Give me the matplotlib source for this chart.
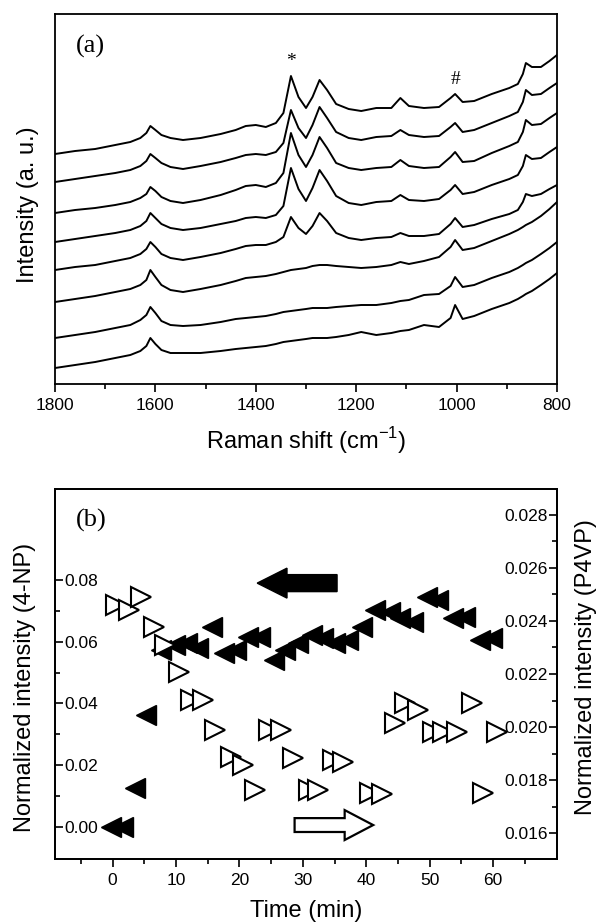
import numpy as np
import matplotlib
matplotlib.use("Agg")
import matplotlib.pyplot as plt
from matplotlib.patches import FancyArrow
from matplotlib.ticker import MultipleLocator, FormatStrFormatter

plt.rcParams['font.family'] = ['Liberation Sans', 'DejaVu Sans']
plt.rcParams['mathtext.fontset'] = 'custom'
plt.rcParams['mathtext.rm'] = 'Liberation Sans'

# ---- panel (a): Raman spectra ----
shift = [1800, 1760, 1720, 1680, 1650, 1630, 1618, 1610, 1600, 1588, 1570, 1545,
         1510, 1470, 1440, 1420, 1400, 1380, 1360, 1345, 1330, 1315, 1300, 1287,
         1273, 1258, 1240, 1215, 1190, 1160, 1130, 1112, 1095, 1065, 1035, 1012,
         1003, 988, 965, 930, 895, 878, 868, 862, 850, 832, 815, 800]

# each spectrum relative to its value at 1800 cm-1 (top trace first)
spec1 = [0, 3, 5, 9, 12, 16, 21, 28, 24, 19, 16, 14, 16, 20, 24, 28, 29, 27, 31, 41,
         78, 57, 46, 57, 74, 64, 50, 45, 43, 46, 46, 56, 48, 46, 47, 56, 60, 52, 53, 60,
         66, 70, 80, 91, 87, 87, 93, 99]
spec2 = [0, 3, 6, 9, 12, 16, 21, 28, 24, 19, 15, 13, 16, 20, 24, 27, 28, 27, 30, 39,
         72, 54, 44, 57, 75, 64, 50, 44, 42, 45, 46, 52, 47, 45, 46, 55, 59, 50, 52, 59,
         66, 70, 80, 92, 87, 88, 94, 99]
spec3 = [0, 3, 5, 8, 11, 15, 19, 26, 22, 16, 12, 10, 13, 18, 23, 27, 28, 26, 30, 40,
         80, 58, 46, 58, 76, 65, 50, 45, 43, 45, 46, 53, 47, 45, 46, 56, 61, 51, 52, 60,
         67, 71, 81, 93, 88, 89, 95, 100]
spec4 = [0, 3, 6, 9, 12, 16, 21, 29, 24, 18, 14, 12, 14, 18, 21, 24, 25, 24, 27, 36,
         74, 53, 41, 54, 72, 61, 46, 39, 37, 40, 41, 47, 42, 41, 43, 52, 57, 48, 50, 57,
         63, 67, 76, 87, 83, 84, 90, 95]
spec5 = [0, 3, 5, 9, 12, 16, 21, 28, 23, 16, 12, 10, 13, 17, 21, 24, 25, 25, 28, 33,
         53, 42, 36, 44, 57, 49, 37, 32, 30, 32, 33, 37, 34, 34, 36, 46, 52, 43, 45, 51,
         56, 60, 68, 76, 74, 76, 81, 85]
spec6 = [0, 3, 6, 10, 13, 17, 22, 32, 25, 17, 12, 10, 13, 17, 21, 24, 25, 26, 28, 30,
         32, 33, 34, 36, 37, 37, 36, 35, 34, 35, 37, 40, 38, 41, 45, 55, 62, 52, 54, 61,
         68, 72, 75, 77, 80, 86, 93, 100]
spec7 = [0, 3, 6, 10, 13, 18, 23, 31, 25, 17, 13, 12, 13, 16, 19, 20, 21, 22, 24, 26,
         27, 28, 29, 30, 30, 30, 31, 32, 33, 33, 35, 37, 38, 43, 44, 52, 61, 51, 53, 60,
         66, 70, 73, 75, 78, 84, 90, 96]
spec8 = [0, 3, 6, 10, 13, 17, 22, 30, 24, 18, 15, 15, 15, 17, 19, 20, 21, 22, 24, 26,
         27, 28, 29, 30, 30, 30, 31, 33, 36, 33, 35, 37, 38, 43, 41, 50, 63, 49, 52, 59,
         65, 69, 72, 74, 77, 83, 89, 95]
spectra = [spec1, spec2, spec3, spec4, spec5, spec6, spec7, spec8]
levels = [230, 202, 171, 142, 114, 82, 46, 16]   # stacking level of each trace

# ---- panel (b): normalized intensities vs time ----
t_np = [-0.3, 1.6, 3.6, 5.2, 7.6, 9.9, 11.8, 13.5, 15.7, 17.5, 19.4, 21.3, 23.3,
        25.4, 27.2, 29.3, 31.5, 33.2, 35.1, 37.2, 39.4, 41.4, 43.8, 45.4, 47.4,
        49.6, 51.3, 53.7, 55.6, 57.9, 59.8]
i_np = [0.000, 0.000, 0.0126, 0.0363, 0.0573, 0.0589, 0.0596, 0.0580, 0.0648,
        0.0563, 0.0573, 0.0615, 0.0615, 0.0541, 0.0573, 0.0596, 0.0622, 0.0612,
        0.0596, 0.0606, 0.0648, 0.0703, 0.0696, 0.0677, 0.0664, 0.0745, 0.0735,
        0.0677, 0.0680, 0.0606, 0.0612]

t_p4vp = [0.5, 2.5, 4.5, 6.5, 8.3, 10.4, 12.3, 14.3, 16.2, 18.6, 20.5, 22.5, 24.6,
          26.5, 28.5, 30.9, 32.4, 34.8, 36.4, 40.6, 42.5, 44.6, 46.1, 48.2, 50.6,
          52.1, 54.3, 56.7, 58.4, 60.6]
i_p4vp = [0.02460, 0.02442, 0.02491, 0.02377, 0.02309, 0.02208, 0.02102, 0.02102,
          0.01989, 0.01887, 0.01857, 0.01762, 0.01989, 0.01989, 0.01883, 0.01762,
          0.01762, 0.01875, 0.01868, 0.01751, 0.01747, 0.02015, 0.02091, 0.02064,
          0.01981, 0.01981, 0.01981, 0.02091, 0.01751, 0.01981]

W, H = 597, 924
fig = plt.figure(figsize=(W / 100, H / 100), dpi=100)

def px_axes(l, t, r, b):
    return [l / W, 1 - b / H, (r - l) / W, (b - t) / H]

lw_sp = 1.3
lab_fs = 17
tick_fs = 12.5

# panel (a)
ax1 = fig.add_axes(px_axes(55, 14, 557, 384))
for lvl, s in zip(levels, spectra):
    ax1.plot(shift, lvl + np.array(s), color='black', lw=1.4)
ax1.set_xlim(1800, 800)
ax1.set_ylim(0, 370)
ax1.set_yticks([])
ax1.xaxis.set_major_locator(MultipleLocator(200))
ax1.xaxis.set_minor_locator(MultipleLocator(100))
ax1.tick_params(axis='x', which='major', direction='out', length=6, width=1.2,
                labelsize=tick_fs, pad=4)
ax1.tick_params(axis='x', which='minor', direction='out', length=3.5, width=1.2)
ax1.set_xlabel('Raman shift (cm$^{-1}$)', fontsize=lab_fs, labelpad=9)
ax1.set_ylabel('Intensity (a. u.)', fontsize=lab_fs)
ax1.yaxis.set_label_coords(-0.032, 0.484)
ax1.text(0.042, 0.913, '(a)', transform=ax1.transAxes, fontsize=19,
         family='Liberation Serif', va='center', ha='left')
ax1.text(1330, 322, '*', fontsize=14, family='Liberation Serif', ha='center', va='center')
ax1.text(1003, 304, '#', fontsize=14, family='Liberation Serif', ha='center', va='center')
for sp in ax1.spines.values():
    sp.set_linewidth(lw_sp)

# panel (b)
ax = fig.add_axes(px_axes(55, 489, 557, 859))
ax2 = ax.twinx()
ax.plot(t_np, i_np, ls='none', marker='<', ms=15, color='black')
ax2.plot(t_p4vp, i_p4vp, ls='none', marker='>', ms=14, mfc='white', mec='black', mew=1.5)

ax.set_xlim(-9.1, 70.1)
ax.set_ylim(-0.0104, 0.1095)
ax2.set_ylim(0.01502, 0.02898)

ax.set_xticks([0, 10, 20, 30, 40, 50, 60])
ax.set_xticks([-5, 5, 15, 25, 35, 45, 55, 65], minor=True)
ax.set_yticks([0.00, 0.02, 0.04, 0.06, 0.08])
ax.set_yticks([0.01, 0.03, 0.05, 0.07], minor=True)
ax2.set_yticks([0.016, 0.018, 0.020, 0.022, 0.024, 0.026, 0.028])
ax2.set_yticks([0.017, 0.019, 0.021, 0.023, 0.025, 0.027], minor=True)
ax.yaxis.set_major_formatter(FormatStrFormatter('%.2f'))
ax2.yaxis.set_major_formatter(FormatStrFormatter('%.3f'))

ax.tick_params(axis='x', which='major', direction='out', length=6, width=1.2,
               labelsize=tick_fs, pad=4)
ax.tick_params(axis='x', which='minor', direction='out', length=3.5, width=1.2)
ax.tick_params(axis='y', which='major', direction='in', length=6, width=1.2,
               labelsize=tick_fs, pad=-7)
ax.tick_params(axis='y', which='minor', direction='in', length=3.5, width=1.2)
ax2.tick_params(axis='y', which='major', direction='in', length=6, width=1.2,
                labelsize=tick_fs, pad=-6.5)
ax2.tick_params(axis='y', which='minor', direction='in', length=3.5, width=1.2)
plt.setp(ax.get_yticklabels(), ha='left')
plt.setp(ax2.get_yticklabels(), ha='right')

ax.set_xlabel('Time (min)', fontsize=lab_fs, labelpad=9)
ax.set_ylabel('Normalized intensity (4-NP)', fontsize=lab_fs)
ax.yaxis.set_label_coords(-0.038, 0.465)
ax2.set_ylabel('Normalized intensity (P4VP)', fontsize=lab_fs)
ax2.yaxis.set_label_coords(1.036, 0.519)
ax.text(0.042, 0.916, '(b)', transform=ax.transAxes, fontsize=19,
        family='Liberation Serif', va='center', ha='left')

# direction arrows
ax.add_patch(FancyArrow(35.4, 0.079, -12.6, 0, width=0.0055, head_width=0.0097,
                        head_length=4.7, length_includes_head=True,
                        fc='black', ec='black', lw=1))
ax.add_patch(FancyArrow(28.7, 0.0006, 12.4, 0, width=0.0045, head_width=0.0097,
                        head_length=4.5, length_includes_head=True,
                        fc='white', ec='black', lw=1.6, zorder=3))
for a in (ax, ax2):
    for sp in a.spines.values():
        sp.set_linewidth(lw_sp)

fig.savefig('out.png', dpi=100)
